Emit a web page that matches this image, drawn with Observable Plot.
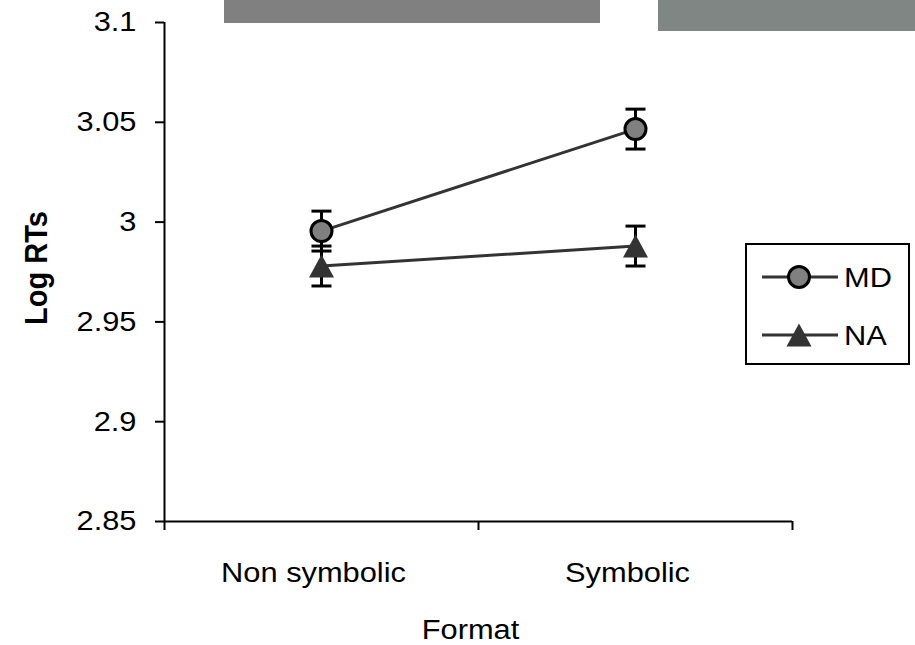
<!DOCTYPE html>
<html>
<head>
<meta charset="utf-8">
<script src="https://cdn.jsdelivr.net/npm/d3@7"></script>
<script src="https://cdn.jsdelivr.net/npm/@observablehq/plot@0.6"></script>
<style>
  html, body { margin: 0; padding: 0; background: white; }
  #wrap { position: relative; width: 915px; height: 645px; overflow: hidden; font-family: "Liberation Sans", Arial, sans-serif; }
  .deco { position: absolute; }
  #legend { position: absolute; left: 745px; top: 243px; width: 161px; height: 118px; border: 2px solid black; background: white; }
</style>
</head>
<body>
<div id="wrap"></div>
<script>
const categories = ["Non symbolic", "Symbolic"];
const seriesNames = ["MD", "NA"];
const mdValues = [2.9955, 3.0466];
const naValues = [2.978, 2.988];
const mdErrors = [0.01, 0.01];
const naErrors = [0.01, 0.01];
const yTicks = [2.85, 2.9, 2.95, 3, 3.05, 3.1];

const rows = [];
categories.forEach((c, i) => {
  rows.push({series: "MD", cat: c, xi: i + 0.5, y: mdValues[i], err: mdErrors[i]});
  rows.push({series: "NA", cat: c, xi: i + 0.5, y: naValues[i], err: naErrors[i]});
});
const md = rows.filter(d => d.series === "MD");
const na = rows.filter(d => d.series === "NA");

const capSymbol = {draw(ctx) { ctx.moveTo(-10, 0); ctx.lineTo(10, 0); }};
const triSymbol = {draw(ctx) { ctx.moveTo(0, -11.5); ctx.lineTo(12.5, 11.5); ctx.lineTo(-12.5, 11.5); ctx.closePath(); }};
const fmt = d => String(+d.toFixed(2));

const chart = Plot.plot({
  width: 915,
  height: 645,
  marginLeft: 164,
  marginRight: 123,
  marginTop: 22,
  marginBottom: 124,
  x: {domain: [0, 2]},
  y: {domain: [2.85, 3.1]},
  style: {fontFamily: "'Liberation Sans', Arial, sans-serif", fontSize: "28px", color: "black", background: "transparent", overflow: "visible"},
  marks: [
    Plot.axisY({ticks: yTicks, tickSize: 9, tickPadding: 19, strokeWidth: 2, tickFormat: fmt, label: null, fontSize: 28}),
    Plot.axisX({ticks: [0, 1, 2], tickSize: 9, strokeWidth: 2, tickFormat: () => "", label: null}),
    Plot.ruleY([2.85], {strokeWidth: 2, stroke: "black"}),
    Plot.ruleX([0], {strokeWidth: 2, stroke: "black"}),
    Plot.text(categories, {x: (d, i) => i + 0.5, frameAnchor: "bottom", dx: -8, dy: 52, lineAnchor: "middle", fontSize: 28}),
    Plot.text(["Format"], {frameAnchor: "bottom", dx: -8, dy: 109, lineAnchor: "middle", fontSize: 28}),
    Plot.text(["Log RTs"], {frameAnchor: "left", dx: -128, dy: -4, rotate: -90, textAnchor: "middle", lineAnchor: "middle", fontWeight: "bold", fontSize: 29}),
    Plot.line(md, {x: "xi", y: "y", stroke: "#333", strokeWidth: 3}),
    Plot.line(na, {x: "xi", y: "y", stroke: "#333", strokeWidth: 3}),
    Plot.ruleX(rows, {x: "xi", y1: d => d.y - d.err, y2: d => d.y + d.err, stroke: "black", strokeWidth: 3}),
    Plot.dot(rows, {x: "xi", y: d => d.y - d.err, symbol: capSymbol, stroke: "black", strokeWidth: 3}),
    Plot.dot(rows, {x: "xi", y: d => d.y + d.err, symbol: capSymbol, stroke: "black", strokeWidth: 3}),
    Plot.dot(md, {x: "xi", y: "y", r: 10.5, fill: "#808080", stroke: "black", strokeWidth: 3}),
    Plot.dot(na, {x: "xi", y: "y", symbol: triSymbol, fill: "#333", stroke: "none"})
  ]
});

const wrap = document.getElementById("wrap");
wrap.appendChild(chart);
chart.style.position = "absolute";
chart.style.left = "0px";
chart.style.top = "0px";

// decorative grey blocks at the top of the reference image
const d1 = document.createElement("div");
d1.className = "deco";
Object.assign(d1.style, {left: "224px", top: "0px", width: "376px", height: "23px", background: "#808080"});
const d2 = document.createElement("div");
d2.className = "deco";
Object.assign(d2.style, {left: "658px", top: "0px", width: "257px", height: "31px", background: "#7f8683"});
wrap.appendChild(d1);
wrap.appendChild(d2);

// legend
const legend = document.createElement("div");
legend.id = "legend";
const ns = "http://www.w3.org/2000/svg";
const lsvg = document.createElementNS(ns, "svg");
lsvg.setAttribute("width", 161);
lsvg.setAttribute("height", 118);
lsvg.style.fontFamily = "'Liberation Sans', Arial, sans-serif";
const items = [
  {name: seriesNames[0], y: 32, kind: "circle"},
  {name: seriesNames[1], y: 90, kind: "tri"}
];
items.forEach(it => {
  const ln = document.createElementNS(ns, "line");
  ln.setAttribute("x1", 15); ln.setAttribute("x2", 91);
  ln.setAttribute("y1", it.y); ln.setAttribute("y2", it.y);
  ln.setAttribute("stroke", "#333"); ln.setAttribute("stroke-width", 3);
  lsvg.appendChild(ln);
  if (it.kind === "circle") {
    const c = document.createElementNS(ns, "circle");
    c.setAttribute("cx", 52); c.setAttribute("cy", it.y); c.setAttribute("r", 10.5);
    c.setAttribute("fill", "#808080"); c.setAttribute("stroke", "black"); c.setAttribute("stroke-width", 3);
    lsvg.appendChild(c);
  } else {
    const p = document.createElementNS(ns, "path");
    p.setAttribute("d", `M52,${it.y - 11.5}L64.5,${it.y + 11.5}L39.5,${it.y + 11.5}Z`);
    p.setAttribute("fill", "#333");
    lsvg.appendChild(p);
  }
  const t = document.createElementNS(ns, "text");
  t.setAttribute("x", 97); t.setAttribute("y", it.y);
  t.setAttribute("dy", "0.35em");
  t.setAttribute("font-size", 28);
  t.textContent = it.name;
  lsvg.appendChild(t);
});
legend.appendChild(lsvg);
wrap.appendChild(legend);

// the reference text is slightly wider than Liberation Sans: stretch glyphs horizontally about their anchor
const SX = 1.1;
wrap.querySelectorAll("text").forEach(el => {
  const tr = el.getAttribute("transform") || "";
  const rotated = /rotate/.test(tr);
  if (rotated) {
    el.setAttribute("transform", `${tr} scale(1,${SX})`);
    return;
  }
  const xa = el.getAttribute("x");
  const x = xa !== null && /^-?[\d.]+$/.test(xa.trim()) ? +xa : 0;
  el.setAttribute("transform", `${tr} translate(${x},0) scale(${SX},1) translate(${-x},0)`);
});
</script>
</body>
</html>
